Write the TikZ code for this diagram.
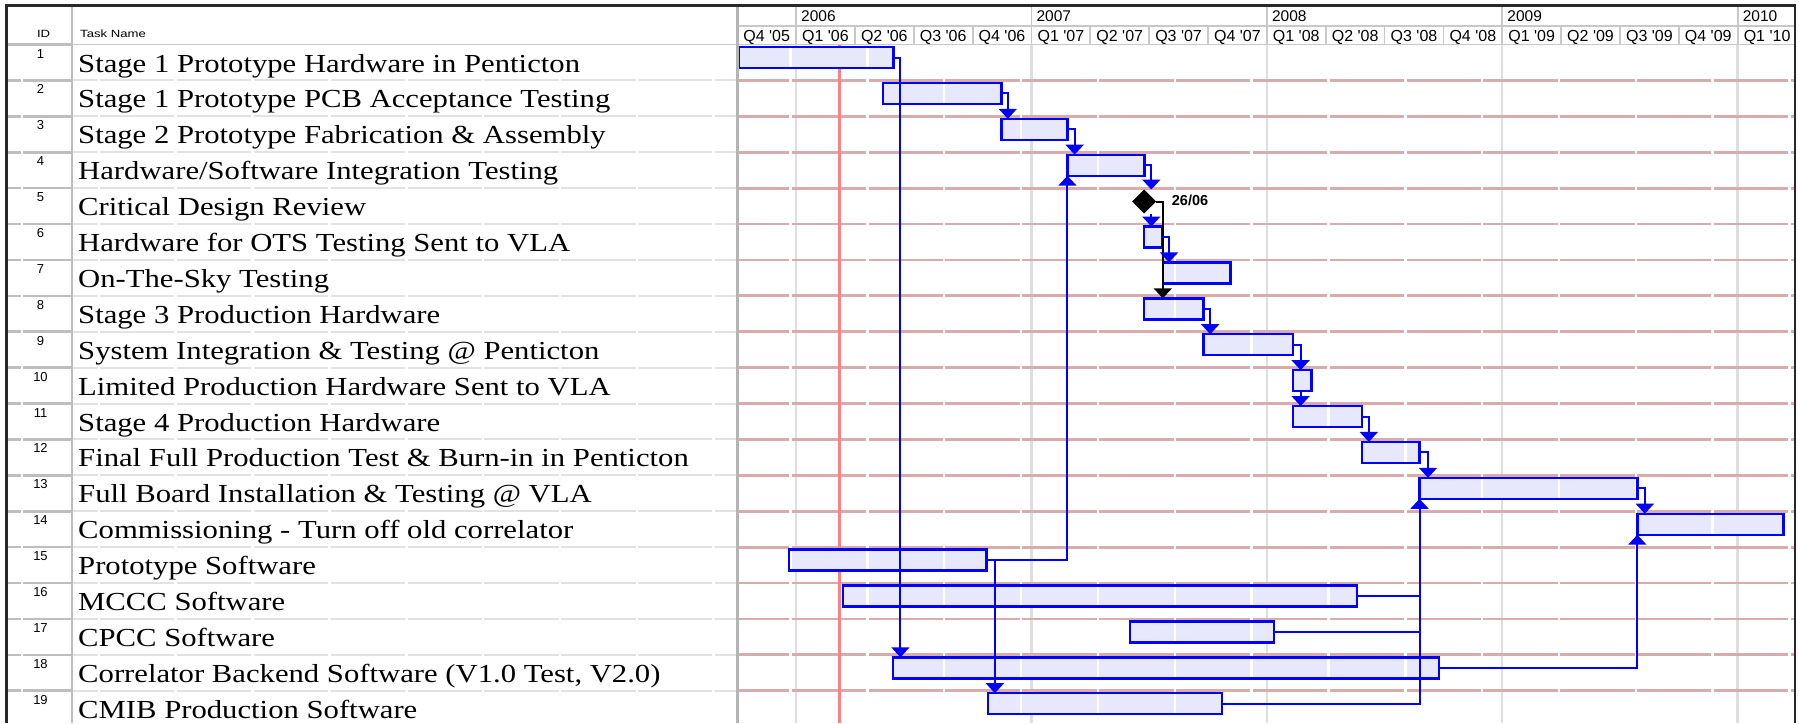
\documentclass[tikz,border=0pt]{standalone}
\usepackage{fontspec}
\setmainfont{Liberation Serif}
\newfontfamily\taskfont[FakeStretch=1.18]{Liberation Serif}
\newfontfamily\sansf{Liberation Sans}
\newfontfamily\hdrfont[FakeStretch=1.25]{Liberation Sans}
\usetikzlibrary{arrows.meta,shapes.geometric}
\definecolor{barfill}{RGB}{232,232,252}
\definecolor{barblue}{RGB}{0,0,255}
\definecolor{rowred}{RGB}{216,172,172}
\definecolor{todayred}{RGB}{255,128,128}
\definecolor{gridgray}{RGB}{222,222,222}
\definecolor{hdrgray}{RGB}{200,200,200}
\definecolor{idgray}{RGB}{190,190,190}
\definecolor{txtgray}{RGB}{226,226,226}
\definecolor{framegray}{RGB}{40,40,40}
\newcommand\rowtop[1]{(44.5+(#1-1)*35.9)}
\newcommand\gbar[4]{%
  \node[barbox, minimum width={(#4-#3)*1pt}] (#1) at ({(#3+#4)/2},{\rowtop{#2}+13}) {};}
\newcommand\qlab[2]{Q#1 \textquotesingle#2}
\begin{document}
\begin{tikzpicture}[x=1pt,y=-1pt,
  barbox/.style={rectangle, fill=barfill, draw=none, minimum height=21pt, inner sep=0pt, outer sep=0pt},
  barline/.style={draw=barblue, line width=2.4pt},
  conn/.style={draw=barblue, line width=2pt, -{Triangle[width=18pt,length=10pt]}},
  connplain/.style={draw=barblue, line width=2pt},
  connblack/.style={draw=black, line width=2pt, -{Triangle[width=18pt,length=10pt]}},
  task/.style={anchor=base west, inner sep=0pt, font=\taskfont\fontsize{26pt}{28pt}\selectfont},
  idnum/.style={anchor=base, inner sep=0pt, font=\sansf\fontsize{13pt}{14pt}\selectfont},
  hdr/.style={inner sep=0pt, font=\hdrfont\fontsize{10.5pt}{12pt}\selectfont},
  qtr/.style={anchor=base, inner sep=0pt, font=\sansf\fontsize{16pt}{17pt}\selectfont},
  yearlab/.style={anchor=base west, inner sep=0pt, font=\sansf\fontsize{15.5pt}{17pt}\selectfont},
  datelab/.style={anchor=base west, inner sep=0pt, font=\sansf\bfseries\fontsize{14.5pt}{16pt}\selectfont},
  redline/.style={draw=rowred, line width=2.8pt},
  yearline/.style={draw=gridgray, line width=2.4pt},
  hdrline/.style={draw=hdrgray, line width=1.8pt},
  idline/.style={draw=idgray, line width=2.6pt},
  txtline/.style={draw=txtgray, line width=2pt},
  tile/.style={draw=white, line width=2.5pt},
  todayline/.style={draw=todayred, line width=3pt},
  frame/.style={draw=framegray, line width=2.4pt},
  milestone/.style={diamond, fill=black, minimum width=24pt, minimum height=24pt, inner sep=0pt, outer sep=0pt}
]
\useasboundingbox (0,0) rectangle (1799,723);
\fill[white] (0,0) rectangle (1799,723);

% ---- header grid (Gantt) ----
\draw[hdrline] (737,26) -- (1795,26);
\draw[hdrline] (7,44.5) -- (1795,44.5);
\foreach \q in {1,...,17} \draw[hdrline] ({737.2+58.85*\q},26) -- ({737.2+58.85*\q},44.5);
\foreach \j in {0,...,4} \draw[hdrline] ({796+235.4*\j},5.5) -- ({796+235.4*\j},26);

% ---- body grid ----
\foreach \j in {0,...,4} \draw[yearline] ({796+235.4*\j},44.5) -- ({796+235.4*\j},723);
\foreach \k in {2,...,19} {
  \draw[txtline] (72,{\rowtop{\k}}) -- (737,{\rowtop{\k}});
  \draw[redline] (737,{\rowtop{\k}}) -- (1795,{\rowtop{\k}});
}
\foreach \k in {1,...,19} \draw[idline] (7,{\rowtop{\k}}) -- (72,{\rowtop{\k}});
\draw[todayline] (839,44.5) -- (839,723);

% ---- bar fills ----
\gbar{b1}{1}{739.1}{893.6}
\gbar{b2}{2}{882.9}{1001.4}
\gbar{b3}{3}{1001.4}{1067.4}
\gbar{b4}{4}{1067.4}{1144.5}
\gbar{b6}{6}{1144.1}{1162.0}
\gbar{b7}{7}{1162.7}{1230.5}
\gbar{b8}{8}{1144.1}{1203.4}
\gbar{b9}{9}{1203.4}{1293.2}
\gbar{b10}{10}{1293.2}{1311.5}
\gbar{b11}{11}{1293.2}{1362.0}
\gbar{b12}{12}{1362.0}{1419.5}
\gbar{b13}{13}{1419.5}{1637.3}
\gbar{b14}{14}{1637.3}{1783.3}
\gbar{b15}{15}{788.8}{986.6}
\gbar{b16}{16}{842.8}{1356.9}
\gbar{b17}{17}{1130.1}{1273.9}
\gbar{b18}{18}{892.9}{1439.2}
\gbar{b19}{19}{988.1}{1222.0}

% ---- faint tile gaps ----
\foreach \k in {-10,...,13} \draw[tile] ({790.5+76.85*\k},46) -- ({790.5+76.85*\k},723);

% ---- bar outlines ----
\foreach \b in {b1,b2,b3,b4,b6,b7,b8,b9,b10,b11,b12,b13,b14,b15,b16,b17,b18,b19}
  \draw[barline] (\b.south west) rectangle (\b.north east);

% ---- milestone ----
\node[milestone] (m5) at (1144.1,{\rowtop{5}+13.4}) {};
\node[datelab] (d5) at (1171.7,205) {26/06};

% ---- connectors ----
\coordinate (c1) at ([xshift=6.8pt]b1.east);
\draw[conn] (b1.east) -- (c1) -- (c1 |- b18.north);
\coordinate (c2) at ([xshift=6.4pt]b2.east);
\draw[conn] (b2.east) -- (c2) -- (c2 |- b3.north);
\coordinate (c3) at ([xshift=7.2pt]b3.east);
\draw[conn] (b3.east) -- (c3) -- (c3 |- b4.north);
\coordinate (c4) at ([xshift=6.8pt]b4.east);
\draw[conn] (b4.east) -- (c4) -- (c4 |- m5.north);
\draw[conn] (c4 |- m5.south) -- (c4 |- b6.north);
\coordinate (c5) at ([xshift=6.7pt]m5.east);
\draw[connblack] (m5.east) -- (c5) -- (c5 |- b8.north);
\coordinate (c6) at ([xshift=7pt]b6.east);
\draw[conn] (b6.east) -- (c6) -- (c6 |- b7.north);
\coordinate (c8) at ([xshift=6.8pt]b8.east);
\draw[conn] (b8.east) -- (c8) -- (c8 |- b9.north);
\coordinate (c9) at ([xshift=7.4pt]b9.east);
\draw[conn] (b9.east) -- (c9) -- (c9 |- b10.north);
\draw[conn] (c9 |- b10.south) -- (c9 |- b11.north);
\coordinate (c11) at ([xshift=6.8pt]b11.east);
\draw[conn] (b11.east) -- (c11) -- (c11 |- b12.north);
\coordinate (c12) at ([xshift=8.5pt]b12.east);
\draw[conn] (b12.east) -- (c12) -- (c12 |- b13.north);
\coordinate (c13) at ([xshift=7.5pt]b13.east);
\draw[conn] (b13.east) -- (c13) -- (c13 |- b14.north);
\draw[conn] (b15.east) -| (b4.south west);
\coordinate (c15) at ([xshift=8.3pt]b15.east);
\draw[conn] (b15.east) -- (c15) -- (c15 |- b19.north);
\draw[connplain] (b16.east) -| (b13.south west);
\draw[connplain] (b17.east) -| (b13.south west);
\draw[conn] (b19.east) -| (b13.south west);
\draw[conn] (b18.east) -| (b14.south west);

% ---- header texts ----
\node[hdr, anchor=base] (hid) at (43.6,37.3) {ID};
\node[hdr, anchor=base west] (hname) at (80,37.3) {Task Name};
\foreach \yr [count=\j from 0] in {2006,2007,2008,2009,2010}
  \node[yearlab] (y\yr) at ({796+235.4*\j+5},21.5) {\yr};
\foreach \lab [count=\q from 0] in {\qlab{4}{05},\qlab{1}{06},\qlab{2}{06},\qlab{3}{06},\qlab{4}{06},\qlab{1}{07},\qlab{2}{07},\qlab{3}{07},\qlab{4}{07},\qlab{1}{08},\qlab{2}{08},\qlab{3}{08},\qlab{4}{08},\qlab{1}{09},\qlab{2}{09},\qlab{3}{09},\qlab{4}{09},\qlab{1}{10}}
  \node[qtr] (q\q) at ({737.2+58.85*(\q+0.5)},41.2) {\lab};

% ---- task rows ----
\foreach \k/\t in {
  1/{Stage 1 Prototype Hardware in Penticton},
  2/{Stage 1 Prototype PCB Acceptance Testing},
  3/{Stage 2 Prototype Fabrication \& Assembly},
  4/{Hardware/Software Integration Testing},
  5/{Critical Design Review},
  6/{Hardware for OTS Testing Sent to VLA},
  7/{On-The-Sky Testing},
  8/{Stage 3 Production Hardware},
  9/{System Integration \& Testing @ Penticton},
  10/{Limited Production Hardware Sent to VLA},
  11/{Stage 4 Production Hardware},
  12/{Final Full Production Test \& Burn-in in Penticton},
  13/{Full Board Installation \& Testing @ VLA},
  14/{Commissioning - Turn off old correlator},
  15/{Prototype Software},
  16/{MCCC Software},
  17/{CPCC Software},
  18/{Correlator Backend Software (V1.0 Test, V2.0)},
  19/{CMIB Production Software}} {
  \node[idnum] (id\k) at (40.5,{\rowtop{\k}+13.5}) {\k};
  \node[task] (t\k) at (78,{\rowtop{\k}+27.5}) {\t};
}

% ---- column dividers and frame ----
\draw[draw=idgray, line width=2pt] (72,5.5) -- (72,723);
\draw[draw=hdrgray!90!black, line width=3pt] (737,5.5) -- (737,723);
\draw[frame] (6.5,723) -- (6.5,5.5) -- (1795,5.5) -- (1795,723);
\end{tikzpicture}
\end{document}
